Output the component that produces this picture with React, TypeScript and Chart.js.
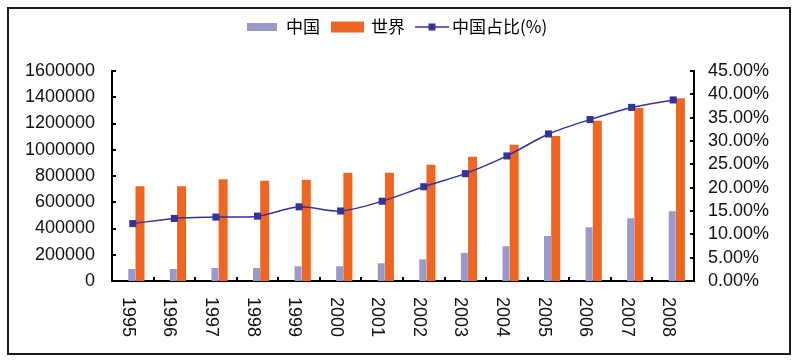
import { useEffect, useRef } from 'react';
import { Chart, registerables } from 'chart.js';

Chart.register(...registerables);

const categories = ['1995', '1996', '1997', '1998', '1999', '2000', '2001', '2002', '2003', '2004', '2005', '2006', '2007', '2008'];
const seriesNames = ['中国', '世界', '中国占比(%)'];
const chinaValues = [92000, 92000, 99000, 99000, 112000, 112000, 135000, 165000, 214000, 265000, 343000, 410000, 478000, 532000];
const worldValues = [722000, 722000, 776000, 763000, 771000, 824000, 824000, 885000, 946000, 1038000, 1104000, 1221000, 1318000, 1392000];
const sharePercent = [12.3, 13.4, 13.7, 13.9, 15.9, 15.0, 17.1, 20.2, 23.0, 26.8, 31.5, 34.6, 37.2, 38.8];
const leftTickValues = [0, 200000, 400000, 600000, 800000, 1000000, 1200000, 1400000, 1600000];
const rightTickValues = [0, 5, 10, 15, 20, 25, 30, 35, 40, 45];

const COLOR_CHINA = '#9999CC';
const COLOR_WORLD = '#EE6622';
const COLOR_LINE = '#333399';
const NUM_FONT = '"Liberation Sans", Arial, sans-serif';
const CJK_FONT = '"Noto Sans CJK SC", "Noto Sans", sans-serif';

const innerTicksPlugin = {
  id: 'innerTicks',
  afterDraw(chart: any) {
    const { ctx, chartArea, scales } = chart;
    ctx.save();
    ctx.strokeStyle = '#000';
    ctx.lineWidth = 2;
    const len = 4;
    ctx.beginPath();
    scales.y.ticks.forEach((t: any) => {
      const y = Math.round(scales.y.getPixelForValue(t.value));
      ctx.moveTo(chartArea.left, y);
      ctx.lineTo(chartArea.left + len, y);
    });
    scales.y1.ticks.forEach((t: any) => {
      const y = Math.round(scales.y1.getPixelForValue(t.value));
      ctx.moveTo(chartArea.right, y);
      ctx.lineTo(chartArea.right - len, y);
    });
    const n = categories.length;
    const w = (chartArea.right - chartArea.left) / n;
    for (let i = 0; i <= n; i++) {
      const x = Math.round(chartArea.left + i * w);
      ctx.moveTo(x, chartArea.bottom);
      ctx.lineTo(x, chartArea.bottom - len);
    }
    ctx.stroke();

    // rotated x labels (clockwise)
    ctx.fillStyle = '#111';
    ctx.font = `18px ${NUM_FONT}`;
    ctx.textAlign = 'left';
    ctx.textBaseline = 'middle';
    categories.forEach((c, i) => {
      const x = scales.x.getPixelForValue(i) - 5;
      const y = chartArea.bottom + 16;
      ctx.save();
      ctx.translate(x, y);
      ctx.rotate(Math.PI / 2);
      ctx.fillText(c, 0, 0);
      ctx.restore();
    });
    ctx.restore();
  },
};

const legendPlugin = {
  id: 'customLegend',
  afterDraw(chart: any) {
    const { ctx } = chart;
    ctx.save();
    ctx.font = `17px ${CJK_FONT}`;
    ctx.textBaseline = 'middle';
    ctx.fillStyle = '#000';
    const cy = 18;
    let x = 238;
    // China
    ctx.fillStyle = COLOR_CHINA;
    ctx.fillRect(x, cy - 4, 30, 8);
    x += 30 + 9;
    ctx.fillStyle = '#000';
    ctx.fillText(seriesNames[0], x, cy);
    x += ctx.measureText(seriesNames[0]).width + 11;
    // World
    ctx.fillStyle = COLOR_WORLD;
    ctx.fillRect(x, cy - 5.5, 33, 11);
    x += 33 + 7;
    ctx.fillStyle = '#000';
    ctx.fillText(seriesNames[1], x, cy);
    x += ctx.measureText(seriesNames[1]).width + 10;
    // share line
    ctx.strokeStyle = COLOR_LINE;
    ctx.lineWidth = 1.5;
    ctx.beginPath();
    ctx.moveTo(x, cy);
    ctx.lineTo(x + 34, cy);
    ctx.stroke();
    ctx.fillStyle = COLOR_LINE;
    ctx.fillRect(x + 17 - 3.5, cy - 3.5, 7, 7);
    x += 34 + 3;
    ctx.fillStyle = '#000';
    ctx.fillText(seriesNames[2], x, cy);
    ctx.restore();
  },
};

export default function App() {
  const ref = useRef<HTMLCanvasElement | null>(null);

  useEffect(() => {
    if (!ref.current) return;
    const chart = new Chart(ref.current, {
      type: 'bar',
      data: {
        labels: categories,
        datasets: [
          {
            type: 'line',
            label: seriesNames[2],
            data: sharePercent,
            yAxisID: 'y1',
            borderColor: COLOR_LINE,
            backgroundColor: COLOR_LINE,
            borderWidth: 1.5,
            pointStyle: 'rect',
            pointRadius: 5,
            pointBorderWidth: 0,
            pointBackgroundColor: COLOR_LINE,
            tension: 0.3,
            order: 0,
          } as any,
          {
            type: 'bar',
            label: seriesNames[0],
            data: chinaValues,
            yAxisID: 'y',
            backgroundColor: COLOR_CHINA,
            categoryPercentage: 0.096,
            barPercentage: 3.5,
            order: 1,
          },
          {
            type: 'bar',
            label: seriesNames[1],
            data: worldValues,
            yAxisID: 'y',
            backgroundColor: COLOR_WORLD,
            categoryPercentage: 0.693,
            barPercentage: 0.625,
            order: 1,
          },
        ],
      },
      options: {
        responsive: false,
        animation: false,
        layout: { padding: { top: 62, left: 0, right: 0, bottom: 0 } },
        plugins: {
          legend: { display: false },
          tooltip: { enabled: false },
        },
        scales: {
          x: {
            type: 'category',
            offset: true,
            grid: { display: false, drawTicks: false },
            border: { display: true, color: '#000', width: 2 },
            ticks: { display: false },
            afterFit: (s: any) => {
              s.height = 72;
              s.paddingLeft = 0;
              s.paddingRight = 0;
            },
          },
          y: {
            type: 'linear',
            position: 'left',
            min: 0,
            max: 1600000,
            grid: { display: false, drawTicks: false },
            border: { display: true, color: '#000', width: 2 },
            ticks: {
              autoSkip: false,
              padding: 17,
              color: '#111',
              font: { family: NUM_FONT, size: 18 },
              callback: (v: any) => String(v),
            },
            afterBuildTicks: (s: any) => {
              s.ticks = leftTickValues.map((v) => ({ value: v }));
            },
            afterFit: (s: any) => {
              s.width = 103;
              s.paddingTop = 0;
              s.paddingBottom = 0;
            },
          },
          y1: {
            type: 'linear',
            position: 'right',
            min: 0,
            max: 45,
            grid: { display: false, drawTicks: false },
            border: { display: true, color: '#000', width: 2 },
            ticks: {
              autoSkip: false,
              padding: 14,
              color: '#111',
              font: { family: NUM_FONT, size: 18 },
              callback: (v: any) => Number(v).toFixed(2) + '%',
            },
            afterBuildTicks: (s: any) => {
              s.ticks = rightTickValues.map((v) => ({ value: v }));
            },
            afterFit: (s: any) => {
              s.width = 95;
              s.paddingTop = 0;
              s.paddingBottom = 0;
            },
          },
        },
      } as any,
      plugins: [innerTicksPlugin, legendPlugin],
    });
    return () => chart.destroy();
  }, []);

  return (
    <div
      style={{
        position: 'absolute',
        left: 7,
        top: 7,
        width: 784,
        height: 348,
        border: '2px solid #1a1a1a',
        boxSizing: 'border-box',
        background: '#fff',
      }}
    >
      <canvas ref={ref} width={780} height={344} style={{ display: 'block', width: 780, height: 344 }} />
    </div>
  );
}
